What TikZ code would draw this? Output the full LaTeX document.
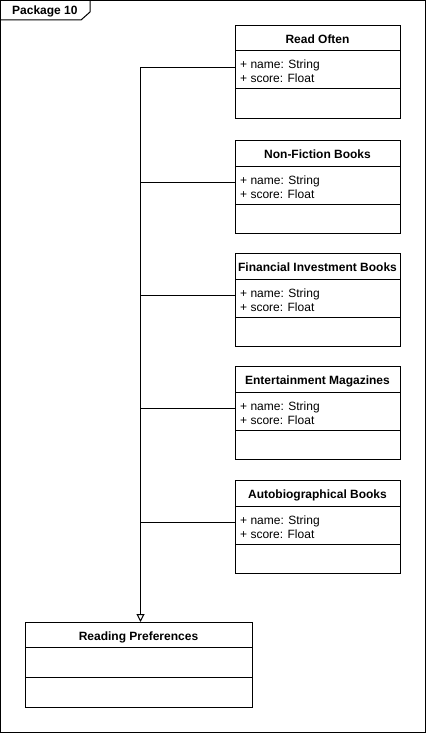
\documentclass[tikz,border=0pt]{standalone}
\usepackage{fontspec}
\setmainfont{Liberation Sans}
\usetikzlibrary{arrows.meta}
\tikzset{
  cls/.style={draw, line width=1pt, inner sep=0pt, minimum width=165pt, minimum height=93pt, anchor=north west},
  ttl/.style={font=\fontsize{12}{14}\selectfont\bfseries, inner sep=0pt, anchor=base},
  attr/.style={font=\fontsize{12}{14}\selectfont, inner sep=0pt, anchor=base west},
  conn/.style={line width=1pt},
  gen/.style={conn, -{Triangle[open, length=8pt, width=8pt]}}
}
\newcommand\umlclass[3]{%
  \node[cls] (#1) at (235,#2) {};
  \draw[line width=1pt] (235,{#2+26}) -- (400,{#2+26});
  \draw[line width=1pt] (235,{#2+64}) -- (400,{#2+64});
  \node[ttl] (#1t) at (317.5,{#2+18.3}) {#3};
  \node[attr] (#1a) at (240,{#2+44}) {+ name: String};
  \node[attr] (#1b) at (240,{#2+58}) {+ score: Float};
  \coordinate (#1j) at (140.5,{#2+42.5});
}
\begin{document}
\begin{tikzpicture}[x=1pt,y=-1pt]
\useasboundingbox (0,0) rectangle (426,733);
% package frame
\draw[line width=1pt] (0.5,0.5) rectangle (425.5,732.5);
\draw[line width=1pt] (0.5,20) -- (81,20) -- (90,12) -- (90,0.5);
\node[attr,font=\fontsize{12}{14}\selectfont\bfseries] (pkg) at (12,15) {Package 10};
% classes
\umlclass{ro}{25}{Read Often}
\umlclass{nf}{140}{Non-Fiction Books}
\umlclass{fi}{253}{Financial Investment Books}
\umlclass{em}{366}{Entertainment Magazines}
\umlclass{ab}{480}{Autobiographical Books}
% reading preferences
\node[draw, line width=1pt, inner sep=0pt, minimum width=227pt, minimum height=85pt, anchor=north west] (rp) at (25,622) {};
\draw[line width=1pt] (25,647) -- (252,647);
\draw[line width=1pt] (25,677) -- (252,677);
\node[ttl] (rpt) at (138.5,640) {Reading Preferences};
% connectors
\draw[gen] (ro.west |- roj) -- (roj) -- (roj |- rp.north);
\draw[conn] (nf.west |- nfj) -- (nfj -| roj);
\draw[conn] (fi.west |- fij) -- (fij -| roj);
\draw[conn] (em.west |- emj) -- (emj -| roj);
\draw[conn] (ab.west |- abj) -- (abj -| roj);
\end{tikzpicture}
\end{document}
